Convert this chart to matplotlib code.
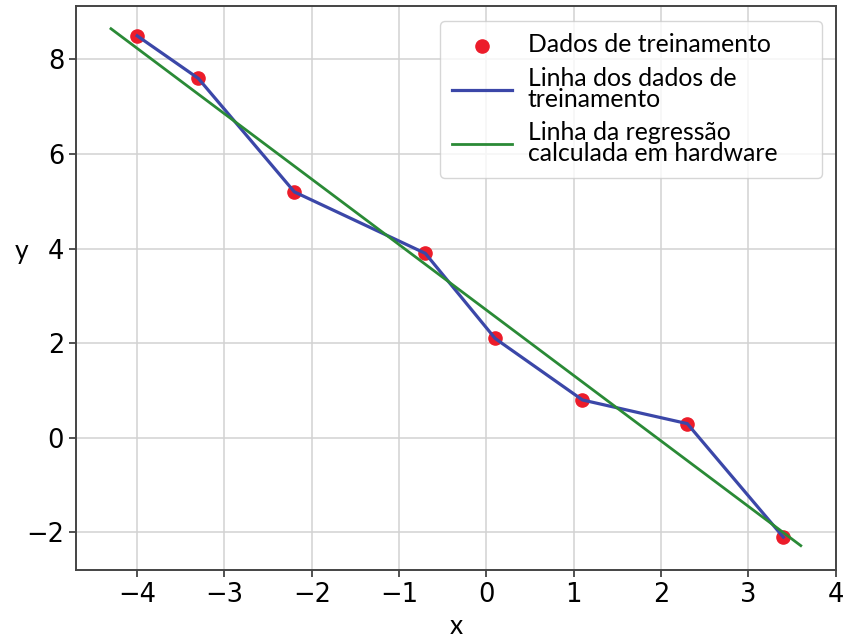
import matplotlib
matplotlib.use("Agg")
import matplotlib.pyplot as plt

# Dados de treinamento
x_treino = [-4.0, -3.3, -2.2, -0.7, 0.1, 1.1, 2.3, 3.4]
y_treino = [8.5, 7.6, 5.2, 3.9, 2.1, 0.8, 0.3, -2.1]

# Extremos da reta de regressão calculada em hardware
x_reg = [-4.3, 3.6]
y_reg = [8.65, -2.28]

rotulos = ["Dados de treinamento",
           "Linha dos dados de\ntreinamento",
           "Linha da regressão\ncalculada em hardware"]

fonte_texto = "Lato"

fig = plt.figure(figsize=(8.45, 6.4), dpi=100)
ax = fig.add_subplot(111)
fig.subplots_adjust(left=0.090, right=0.989, top=0.9906, bottom=0.109)

pts = ax.scatter(x_treino, y_treino, s=90, color="#ec1c2a", zorder=2)
l1, = ax.plot(x_treino, y_treino, color="#3b47a8", lw=2.3, zorder=3)
l2, = ax.plot(x_reg, y_reg, color="#2a8a36", lw=2.0, zorder=3)

ax.set_xlim(-4.7, 4.0)
ax.set_ylim(-2.8, 9.13)
ax.set_xticks([-4, -3, -2, -1, 0, 1, 2, 3, 4])
ax.set_yticks([-2, 0, 2, 4, 6, 8])
ax.grid(True, color="#d2d2d2", lw=1.1)
ax.set_axisbelow(True)
ax.tick_params(labelsize=18.5, length=5, width=1.2, color="#333333")
for s in ax.spines.values():
    s.set_color("#444444")
    s.set_linewidth(1.4)

ax.set_xlabel("x", fontsize=19, family=fonte_texto, va="center")
ax.xaxis.set_label_coords(0.5, -0.1)
ax.set_ylabel("y", fontsize=19, family=fonte_texto, rotation=0, ha="center", va="center")
ax.yaxis.set_label_coords(-0.072, 0.565)

# legenda com a caixa mais larga que o texto, como na figura original
leg = ax.legend([pts, l1, l2], rotulos, loc="upper left",
                bbox_to_anchor=(0.479, 0.5, 0.5026, 0.4734), mode="expand",
                borderaxespad=0.0, borderpad=0.5,
                prop={"family": fonte_texto, "size": 17.8},
                handlelength=2.4, handletextpad=0.65, labelspacing=0.42)
for t in leg.get_texts():
    t.set_linespacing(0.9)

fig.savefig("out.png", dpi=100)
